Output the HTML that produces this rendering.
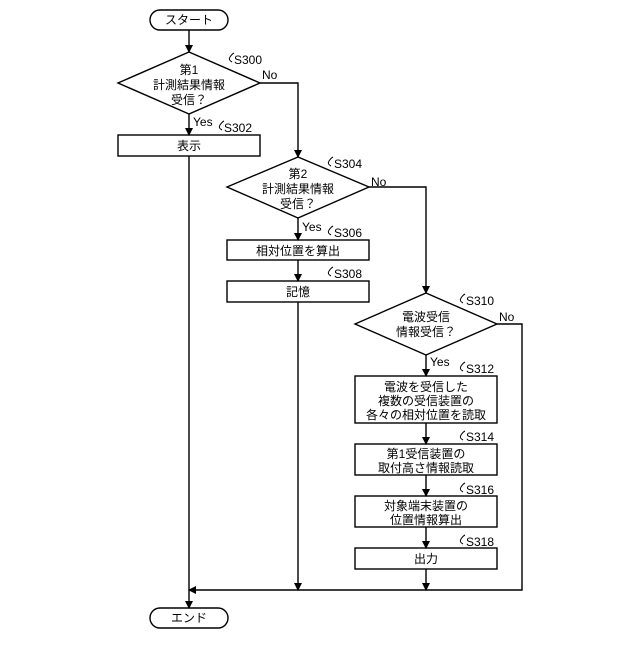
<!DOCTYPE html>
<html><head><meta charset="utf-8"><style>
body{margin:0;background:#fff}
text{font-family:"Liberation Sans","Noto Sans CJK JP",sans-serif;font-size:12px;fill:#000}
</style></head><body>
<svg width="640" height="640" viewBox="0 0 640 640" xmlns="http://www.w3.org/2000/svg">
<defs><marker id="a" markerWidth="8" markerHeight="8" refX="7" refY="4" orient="auto" markerUnits="userSpaceOnUse"><path d="M0,0 L8,4 L0,8 z" fill="#000"/></marker></defs>
<g fill="none" stroke="#000" stroke-width="1.4">
<rect x="150" y="10" width="78" height="20" rx="10" fill="#fff"/>
<rect x="150" y="608" width="78" height="20" rx="10" fill="#fff"/>
<polygon points="118,83 189,52 260,83 189,114"/>
<polygon points="227,187 298,157 369,187 298,218"/>
<polygon points="355,324 426,293 497,324 426,355"/>
<rect x="118" y="135" width="142" height="21"/>
<rect x="227" y="240" width="142" height="20"/>
<rect x="227" y="281" width="142" height="21"/>
<rect x="355" y="376" width="142" height="47"/>
<rect x="355" y="444" width="142" height="31"/>
<rect x="355" y="496" width="142" height="31"/>
<rect x="355" y="548" width="142" height="21"/>
<line x1="189" y1="30" x2="189" y2="52" marker-end="url(#a)"/>
<line x1="189" y1="114" x2="189" y2="135" marker-end="url(#a)"/>
<polyline points="260,83 298,83 298,157" marker-end="url(#a)"/>
<line x1="298" y1="218" x2="298" y2="240" marker-end="url(#a)"/>
<line x1="298" y1="260" x2="298" y2="281" marker-end="url(#a)"/>
<polyline points="369,187 426,187 426,293" marker-end="url(#a)"/>
<line x1="426" y1="355" x2="426" y2="376" marker-end="url(#a)"/>
<line x1="426" y1="423" x2="426" y2="444" marker-end="url(#a)"/>
<line x1="426" y1="475" x2="426" y2="496" marker-end="url(#a)"/>
<line x1="426" y1="527" x2="426" y2="548" marker-end="url(#a)"/>
<line x1="426" y1="569" x2="426" y2="590" marker-end="url(#a)"/>
<line x1="298" y1="302" x2="298" y2="590" marker-end="url(#a)"/>
<polyline points="497,324 522,324 522,590 189,590" marker-end="url(#a)"/>
<line x1="189" y1="156" x2="189" y2="608" marker-end="url(#a)"/>
<g stroke-width="1">
<path d="M232,62 q-4,-2 -2,-5 q2,-3 4,-4"/>
<path d="M222,130 q-4,-2 -2,-5 q2,-3 4,-4"/>
<path d="M331,166 q-4,-2 -2,-5 q2,-3 4,-4"/>
<path d="M331,235 q-4,-2 -2,-5 q2,-3 4,-4"/>
<path d="M331,276 q-4,-2 -2,-5 q2,-3 4,-4"/>
<path d="M463,303 q-4,-2 -2,-5 q2,-3 4,-4"/>
<path d="M463,371 q-4,-2 -2,-5 q2,-3 4,-4"/>
<path d="M463,440 q-4,-2 -2,-5 q2,-3 4,-4"/>
<path d="M463,492 q-4,-2 -2,-5 q2,-3 4,-4"/>
<path d="M463,544 q-4,-2 -2,-5 q2,-3 4,-4"/>
</g>
</g>
<g text-anchor="middle">
<text x="189" y="24">スタート</text>
<text x="189" y="622">エンド</text>
<text x="189" y="74">第1</text><text x="189" y="89">計測結果情報</text><text x="189" y="104">受信？</text>
<text x="189" y="150">表示</text>
<text x="298" y="178">第2</text><text x="298" y="193">計測結果情報</text><text x="298" y="208">受信？</text>
<text x="298" y="255">相対位置を算出</text>
<text x="298" y="296">記憶</text>
<text x="426" y="321">電波受信</text><text x="426" y="336">情報受信？</text>
<text x="426" y="391">電波を受信した</text><text x="426" y="405">複数の受信装置の</text><text x="426" y="419">各々の相対位置を読取</text>
<text x="426" y="458">第1受信装置の</text><text x="426" y="472">取付高さ情報読取</text>
<text x="426" y="510">対象端末装置の</text><text x="426" y="524">位置情報算出</text>
<text x="426" y="563">出力</text>
</g>
<g>
<text x="234" y="64">S300</text><text x="262" y="79">No</text><text x="193" y="126">Yes</text>
<text x="224" y="132">S302</text>
<text x="334" y="168">S304</text><text x="371" y="186">No</text><text x="302" y="231">Yes</text>
<text x="334" y="237">S306</text><text x="334" y="278">S308</text>
<text x="466" y="305">S310</text><text x="499" y="321">No</text><text x="430" y="366">Yes</text>
<text x="466" y="373">S312</text><text x="466" y="441">S314</text><text x="466" y="494">S316</text><text x="466" y="546">S318</text>
</g>
</svg>
</body></html>
